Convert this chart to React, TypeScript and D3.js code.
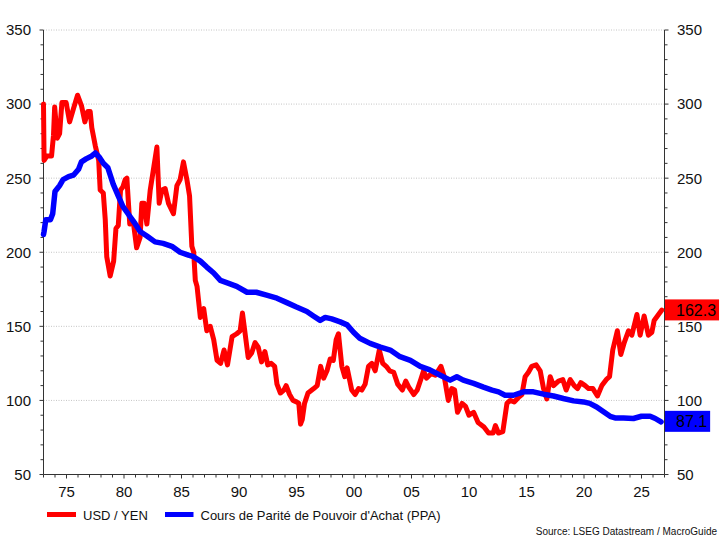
import React from "react";
import * as d3 from "d3";

// ---- Data (decimal years) ----
const usdYenYears = [
  1973.0, 1973.05, 1973.3, 1973.7, 1973.87, 1973.97, 1974.2, 1974.4, 1974.6, 1974.97,
  1975.27, 1975.61, 1975.96, 1976.3, 1976.6, 1976.85, 1977.06, 1977.2, 1977.5, 1977.8,
  1977.93, 1978.2, 1978.37, 1978.5, 1978.8, 1979.1, 1979.3, 1979.5, 1979.7, 1979.9,
  1980.1, 1980.25, 1980.5, 1980.8, 1981.1, 1981.4, 1981.55, 1981.75, 1981.99, 1982.28,
  1982.6, 1982.86, 1983.06, 1983.3, 1983.58, 1983.87, 1984.3, 1984.6, 1984.88, 1985.17,
  1985.47, 1985.7, 1985.9, 1986.06, 1986.2, 1986.35, 1986.64, 1986.93, 1987.2, 1987.5,
  1987.8, 1988.09, 1988.4, 1988.7, 1989.0, 1989.4, 1989.8, 1990.1, 1990.3, 1990.5,
  1990.8, 1991.1, 1991.4, 1991.67, 1991.96, 1992.25, 1992.5, 1992.8, 1993.1, 1993.3,
  1993.6, 1993.9, 1994.1, 1994.4, 1994.7, 1995.0, 1995.2, 1995.35, 1995.5, 1995.7,
  1996.0, 1996.5, 1996.8, 1997.1, 1997.36, 1997.65, 1997.93, 1998.2, 1998.45, 1998.65,
  1998.94, 1999.2, 1999.4, 1999.8, 2000.1, 2000.4, 2000.68, 2000.97, 2001.26, 2001.55,
  2001.84, 2002.2, 2002.5, 2002.8, 2003.1, 2003.45, 2003.8, 2004.2, 2004.5, 2004.76,
  2005.2, 2005.5, 2005.8, 2006.05, 2006.3, 2006.7, 2007.07, 2007.56, 2007.85, 2008.2,
  2008.5, 2008.75, 2009.0, 2009.4, 2009.7, 2010.0, 2010.4, 2010.8, 2011.3, 2011.7,
  2012.1, 2012.3, 2012.56, 2012.94, 2013.3, 2013.58, 2013.93, 2014.3, 2014.6, 2014.88,
  2015.17, 2015.46, 2015.84, 2016.19, 2016.48, 2016.77, 2017.06, 2017.35, 2017.78, 2018.16,
  2018.45, 2018.8, 2019.15, 2019.44, 2019.72, 2020.1, 2020.4, 2020.77, 2021.17, 2021.55,
  2021.93, 2022.22, 2022.5, 2022.9, 2023.2, 2023.5, 2023.87, 2024.16, 2024.6, 2024.88,
  2025.23, 2025.6, 2025.9, 2026.1, 2026.48, 2026.77,
];
const usdYenValues = [
  300, 262, 265, 265, 279, 298, 277, 280, 301, 301,
  288, 297, 306, 299, 288, 295, 295, 284, 272, 262,
  242, 240, 222, 197, 184, 194, 216, 218, 242, 244,
  249, 250, 219, 221, 203, 210, 233, 233, 219, 242,
  258, 271, 233, 242, 243, 233, 226, 245, 249, 261,
  249, 238, 204, 200, 181, 177, 156, 162, 147, 150,
  141, 127, 125, 134, 124, 143, 145, 147, 159, 147,
  129, 132, 139, 136, 126, 133, 124, 125, 123, 111,
  105, 107, 110, 104, 100, 99, 98, 84, 87, 98,
  105, 108, 110, 123, 115, 120, 128, 127, 141, 145,
  123, 116, 122, 107, 104, 108, 107, 111, 123, 125,
  120, 134, 125, 123, 120, 119, 111, 107, 113, 109,
  104, 107, 114, 120, 115, 118, 117, 123, 116, 100,
  108, 107, 92, 98, 96, 90, 92, 85, 82, 78,
  78, 83, 78, 79, 98, 100, 99, 102, 104, 116,
  119, 123, 124, 120, 108, 101, 116, 110, 113, 114,
  107, 114, 110, 108, 112, 110, 108, 108, 103, 110,
  114, 116, 134, 147, 131, 139, 147, 144, 158, 144,
  157, 144, 146, 154, 158, 161,
];

const ppaYears = [
  1973.0, 1973.05, 1973.2, 1973.6, 1973.8, 1974.0, 1974.4, 1974.7, 1975.18, 1975.6,
  1976.05, 1976.3, 1976.7, 1977.2, 1977.5, 1977.87, 1978.2, 1978.6, 1979.06, 1979.5,
  1979.9, 1980.35, 1980.9, 1981.4, 1981.99, 1982.7, 1983.4, 1984.16, 1984.88, 1985.6,
  1986.05, 1986.64, 1987.2, 1987.8, 1988.38, 1989.1, 1989.8, 1990.7, 1991.5, 1992.4,
  1993.3, 1994.16, 1995.0, 1995.9, 1996.47, 1997.06, 1997.5, 1998.06, 1998.8, 1999.4,
  1999.96, 2000.5, 2001.4, 2002.3, 2003.15, 2004.0, 2004.9, 2005.76, 2006.6, 2007.5,
  2008.36, 2008.94, 2009.5, 2010.4, 2011.26, 2012.0, 2012.57, 2013.14, 2013.87, 2014.74,
  2015.6, 2016.48, 2017.35, 2018.2, 2019.1, 2019.96, 2020.5, 2021.1, 2021.7, 2022.27,
  2022.7, 2023.43, 2024.3, 2025.0, 2025.75, 2026.2, 2026.7,
];
const ppaValues = [
  212, 214, 222, 222, 226, 241, 245, 249, 251, 252,
  256, 261, 263, 265, 267, 264, 260, 257, 246, 238,
  231, 226, 220, 214, 211, 207, 206, 204, 200, 198,
  197, 194, 190, 186, 181, 179, 177, 173, 173, 171,
  169, 166, 163, 160, 157, 154, 156, 155, 153, 151,
  146, 142, 138.5, 136, 134, 129.5, 127, 123, 120.6, 117,
  113.7, 116, 113.7, 111.5, 109, 107, 105.8, 103.5, 103.5, 105.8,
  105.8, 104.2, 103, 101.3, 99.7, 99, 98, 95.6, 92.3, 89.3,
  88.2, 88.2, 87.8, 89.3, 89.3, 87.8, 85.5,
];

const lastUsdYen = "162.3";
const lastPpa = "87.1";
const lastUsdYenValue = 162.3;
const lastPpaValue = 87.1;

const yTickValues = [50, 100, 150, 200, 250, 300, 350];
const xMajorYears = [1975, 1980, 1985, 1990, 1995, 2000, 2005, 2010, 2015, 2020, 2025];
const xLabels = ["75", "80", "85", "90", "95", "00", "05", "10", "15", "20", "25"];

const seriesNames = ["USD / YEN", "Cours de Parité de Pouvoir d'Achat (PPA)"];
const sourceText = "Source: LSEG Datastream / MacroGuide";

const RED = "#ff0000";
const BLUE = "#0000ff";
const FONT = "'Liberation Sans', Arial, sans-serif";

export default function App() {
  const left = 43.5;
  const right = 664.5;
  const top = 30;
  const bottom = 474.5;

  const x = d3.scaleLinear().domain([1973, 2027]).range([left, right]);
  const y = d3.scaleLinear().domain([50, 350]).range([bottom, top]);

  const line = d3
    .line<[number, number]>()
    .x((d) => x(d[0]))
    .y((d) => y(d[1]));

  const red: [number, number][] = usdYenYears.map((t, i) => [t, usdYenValues[i]]);
  const blue: [number, number][] = ppaYears.map((t, i) => [t, ppaValues[i]]);

  const yMinor = d3.range(50, 351, 10);
  const xMinor = d3.range(1973, 2028, 1);

  const estWidth = (s: string, fs: number) =>
    s.split("").reduce((a, c) => a + (c === "." ? 0.278 : 0.556), 0) * fs;

  const labelBox = (txt: string, v: number, color: string) => {
    const cy = y(v) + 1.8;
    const w = 11 + estWidth(txt, 16) + 3;
    return (
      <g>
        <rect x={right + 0.5} y={cy - 10.5} width={w} height={21} fill={color} />
        <text
          x={right + 11.5}
          y={cy}
          dy="0.36em"
          fontSize={16}
          fontFamily={FONT}
          fill="#000"
        >
          {txt}
        </text>
      </g>
    );
  };

  return (
    <div style={{ position: "absolute", left: 0, top: 0 }}>
      <svg width={720} height={540} style={{ display: "block", background: "#fff" }}>
        {/* gridlines */}
        {yTickValues
          .filter((v) => v > 50)
          .map((v) => (
            <line
              key={"g" + v}
              x1={left}
              x2={right}
              y1={y(v)}
              y2={y(v)}
              stroke="#c4c4c4"
              strokeWidth={1}
              strokeDasharray="1 1.5"
            />
          ))}

        {/* axes */}
        <line x1={left} x2={left} y1={top} y2={bottom} stroke="#333" strokeWidth={1} />
        <line x1={right} x2={right} y1={top} y2={bottom} stroke="#333" strokeWidth={1} />
        <line x1={left} x2={right} y1={bottom} y2={bottom} stroke="#333" strokeWidth={1} />

        {yMinor.map((v) => {
          const major = v % 50 === 0;
          const len = major ? 4 : 3;
          return (
            <g key={"yt" + v}>
              <line x1={left - len} x2={left} y1={y(v)} y2={y(v)} stroke="#333" />
              <line x1={right} x2={right + len} y1={y(v)} y2={y(v)} stroke="#333" />
            </g>
          );
        })}
        {xMinor.map((t) => {
          const major = t % 5 === 0;
          const len = major ? 4 : 3;
          return (
            <line key={"xt" + t} x1={x(t)} x2={x(t)} y1={bottom} y2={bottom + len} stroke="#333" />
          );
        })}

        {yTickValues.map((v) => (
          <g key={"yl" + v}>
            <text
              x={31}
              y={y(v)}
              dy="0.36em"
              textAnchor="end"
              fontSize={15}
              fontFamily={FONT}
              fill="#111"
            >
              {v}
            </text>
            <text
              x={677}
              y={y(v)}
              dy="0.36em"
              textAnchor="start"
              fontSize={15}
              fontFamily={FONT}
              fill="#111"
            >
              {v}
            </text>
          </g>
        ))}
        {xMajorYears.map((t, i) => (
          <text
            key={"xl" + t}
            x={x(t)}
            y={497}
            textAnchor="middle"
            fontSize={15}
            fontFamily={FONT}
            fill="#111"
          >
            {xLabels[i]}
          </text>
        ))}

        {/* series */}
        <path
          d={line(red) || ""}
          fill="none"
          stroke={RED}
          strokeWidth={5}
          strokeLinejoin="round"
          strokeLinecap="round"
        />
        <path
          d={line(blue) || ""}
          fill="none"
          stroke={BLUE}
          strokeWidth={5.5}
          strokeLinejoin="round"
          strokeLinecap="round"
        />

        {/* last value labels */}
        {labelBox(lastUsdYen, lastUsdYenValue, RED)}
        {labelBox(lastPpa, lastPpaValue, BLUE)}

        {/* legend */}
        <line x1={47} x2={76} y1={514.5} y2={514.5} stroke={RED} strokeWidth={5} />
        <text x={83} y={519.5} fontSize={13} fontFamily={FONT} fill="#111">
          {seriesNames[0]}
        </text>
        <line x1={165} x2={193.5} y1={514.5} y2={514.5} stroke={BLUE} strokeWidth={5} />
        <text x={200.5} y={519.5} fontSize={13} fontFamily={FONT} fill="#111">
          {seriesNames[1]}
        </text>

        <text
          x={717}
          y={535}
          textAnchor="end"
          fontSize={10}
          fontFamily={FONT}
          fill="#111"
        >
          {sourceText}
        </text>
      </svg>
    </div>
  );
}
